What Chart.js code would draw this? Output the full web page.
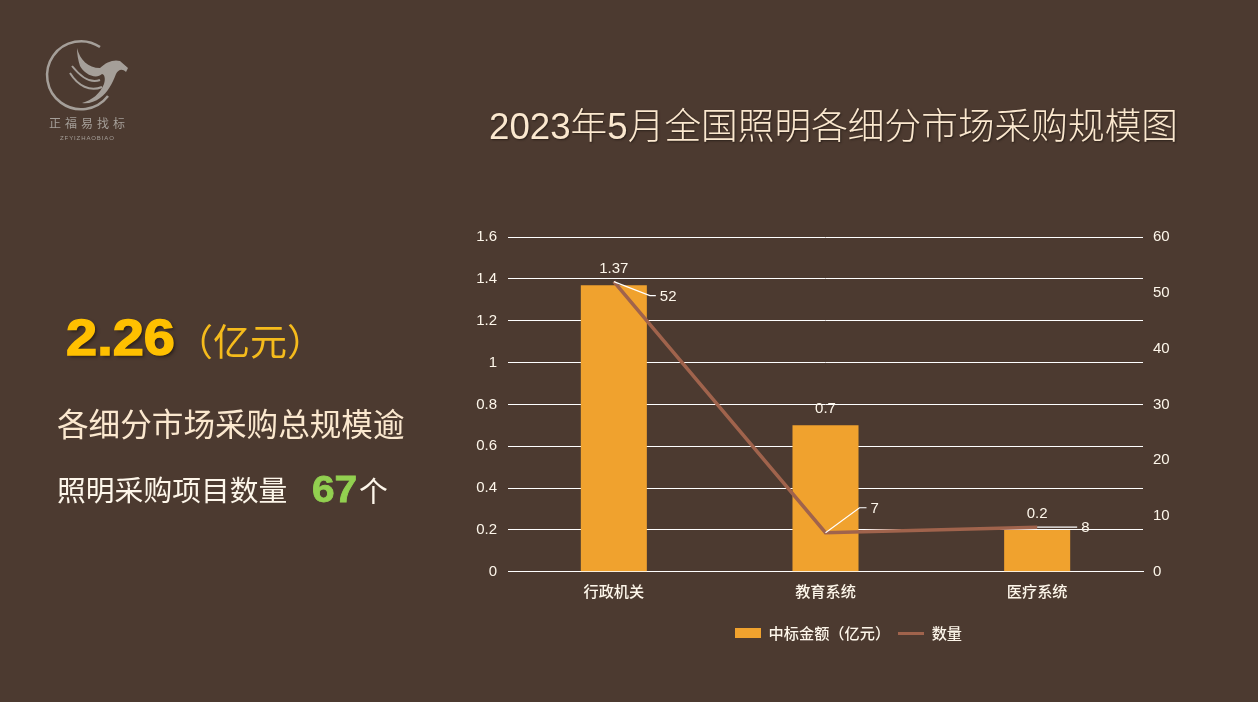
<!DOCTYPE html>
<html>
<head>
<meta charset="utf-8">
<script src="https://cdn.jsdelivr.net/npm/chart.js@4"></script>
<style>
html, body { margin: 0; padding: 0; background: #4c3a30; }
#page { position: relative; width: 1258px; height: 702px; overflow: hidden; font-family: "Liberation Sans", "Noto Sans CJK SC", sans-serif; }
#comboChart { position: absolute; left: 0; top: 0; }
.txt { position: absolute; white-space: nowrap; line-height: 1; }
#title { left: 489px; top: 109px; font-size: 36.7px; color: #fbe8cf; text-shadow: 1px 1px 2px #2b201a; font-weight: 300; }
#total { left: 66px; top: 313px; font-size: 50px; font-weight: bold; color: #ffc000; -webkit-text-stroke: 1.4px #ffc000; text-shadow: 2px 2px 3px #2b201a; transform: scaleX(1.12); transform-origin: left; }
#unit { left: 176px; top: 325px; font-size: 37px; color: #f5bb1c; font-weight: 400; }
#line1 { left: 57px; top: 410px; font-size: 31.6px; color: #fbe8cf; }
#line2 { left: 57px; top: 477px; font-size: 28.8px; color: #fdf6ea; }
#count { left: 312px; top: 472px; font-size: 36px; font-weight: bold; color: #92d050; -webkit-text-stroke: 0.8px #92d050; transform: scaleX(1.13); transform-origin: left; }
#countUnit { left: 359px; top: 478px; font-size: 28.8px; color: #fdf6ea; }
#logoCn { left: 49px; top: 118px; font-size: 12px; letter-spacing: 4px; color: #a59f99; }
#logoEn { left: 60px; top: 135px; font-size: 6px; letter-spacing: 0.9px; color: #a59f99; }
#logo { position: absolute; left: 40px; top: 36px; }
</style>
</head>
<body>
<div id="page">
  <canvas id="comboChart" width="1258" height="702"></canvas>
  <svg id="logo" width="96" height="80" viewBox="40 36 96 80">
    <path d="M100 47 A34 34 0 1 0 108 96" fill="none" stroke="#a59f99" stroke-width="2.5"/>
    <path d="M77 48 C80 60 88 68 100 68 C106 62 114 59 120 61 L128 68 L126 72 C122 68 118 70 116 74 C112 84 108 92 100 98 C95 102 88 104 82 103 C92 100 100 94 104 84 C106 78 104 74 102 74 C96 80 84 74 80 66 C78 60 77 54 77 48 Z" fill="#a59f99"/>
    <path d="M72 66 C80 76 90 84 100 80" fill="none" stroke="#a59f99" stroke-width="2"/>
    <path d="M70 73 C78 86 90 92 102 87" fill="none" stroke="#a59f99" stroke-width="2"/>
  </svg>
  <div class="txt" id="logoCn">正福易找标</div>
  <div class="txt" id="logoEn">ZFYIZHAOBIAO</div>
  <div class="txt" id="title">2023年5月全国照明各细分市场采购规模图</div>
  <div class="txt" id="total">2.26</div>
  <div class="txt" id="unit">（亿元）</div>
  <div class="txt" id="line1">各细分市场采购总规模逾</div>
  <div class="txt" id="line2">照明采购项目数量</div>
  <div class="txt" id="count">67</div>
  <div class="txt" id="countUnit">个</div>
</div>
<script>
const categories = ['行政机关', '教育系统', '医疗系统'];
const amounts = [1.37, 0.7, 0.2];
const counts = [52, 7, 8];
const leftTicks = ['0', '0.2', '0.4', '0.6', '0.8', '1', '1.2', '1.4', '1.6'];
const rightTicks = ['0', '10', '20', '30', '40', '50', '60'];

const textColor = '#fdf6ea';
const numFont = '15px "Liberation Sans", "Noto Sans CJK SC", sans-serif';
const cjkFont = { family: '"Noto Sans CJK SC", sans-serif', size: 15.2, weight: '500' };

function swatch(w, h, color) {
    const c = document.createElement('canvas');
    c.width = w;
    c.height = h;
    const g = c.getContext('2d');
    g.fillStyle = color;
    g.fillRect(0, 0, w, h);
    return c;
}

// value labels plus the leader lines for the line series
const dataLabels = {
    id: 'dataLabels',
    afterLayout(chart) {
        chart.legend.left += 23;
        chart.legend.right += 23;
    },
    afterDatasetsDraw(chart) {
        const ctx = chart.ctx;
        const bars = chart.getDatasetMeta(0).data;
        const pts = chart.getDatasetMeta(1).data;
        ctx.save();
        ctx.font = numFont;
        ctx.fillStyle = textColor;
        ctx.textBaseline = 'middle';
        ctx.textAlign = 'center';
        amounts.forEach((v, i) => {
            ctx.fillText(String(v), bars[i].x, bars[i].y - 16);
        });
        const leaders = [[36, 14, 42, 14], [34, -25, 41, -25], [40, 0, 40, 0]];
        ctx.strokeStyle = '#ffffff';
        ctx.lineWidth = 1.2;
        ctx.textAlign = 'left';
        counts.forEach((v, i) => {
            const p = pts[i];
            const l = leaders[i];
            ctx.beginPath();
            ctx.moveTo(p.x, p.y);
            ctx.lineTo(p.x + l[0], p.y + l[1]);
            ctx.lineTo(p.x + l[2], p.y + l[3]);
            ctx.stroke();
            ctx.fillText(String(v), p.x + l[2] + 4, p.y + l[3] + 1);
        });
        ctx.restore();
    }
};

new Chart(document.getElementById('comboChart'), {
    data: {
        labels: categories,
        datasets: [{
            type: 'bar',
            label: '中标金额（亿元）',
            data: amounts,
            yAxisID: 'y',
            backgroundColor: '#f0a22e',
            categoryPercentage: 1,
            barPercentage: 0.312,
            order: 2
        }, {
            type: 'line',
            label: '数量',
            data: counts,
            yAxisID: 'y1',
            borderColor: '#a0634c',
            backgroundColor: '#a0634c',
            borderWidth: 3.5,
            pointRadius: 0,
            tension: 0,
            order: 1
        }]
    },
    options: {
        responsive: false,
        animation: false,
        layout: { padding: { left: 468, right: 75, top: 237, bottom: 51 } },
        plugins: {
            tooltip: { enabled: false },
            legend: {
                position: 'bottom',
                labels: {
                    color: textColor,
                    font: cjkFont,
                    usePointStyle: true,
                    pointStyleWidth: 26,
                    padding: 8,
                    generateLabels(chart) {
                        const items = Chart.defaults.plugins.legend.labels.generateLabels(chart);
                        items.sort((a, b) => a.datasetIndex - b.datasetIndex);
                        items[0].pointStyle = swatch(26, 10, '#f0a22e');
                        items[1].pointStyle = swatch(26, 3, '#a0634c');
                        return items;
                    }
                }
            }
        },
        scales: {
            x: {
                afterFit(s) { s.height = 46; },
                grid: { display: false },
                border: { color: '#ffffff', width: 1 },
                ticks: { color: textColor, font: cjkFont, padding: 2 }
            },
            y: {
                position: 'left',
                min: 0,
                max: 1.6,
                afterFit(s) { s.width = 40; },
                grid: { color: '#ffffff', lineWidth: 1, drawTicks: false },
                border: { display: false },
                ticks: {
                    stepSize: 0.2,
                    color: textColor,
                    font: { family: '"Liberation Sans", sans-serif', size: 15 },
                    padding: 11,
                    callback: (v, i) => leftTicks[i]
                }
            },
            y1: {
                position: 'right',
                min: 0,
                max: 60,
                afterFit(s) { s.width = 40; },
                grid: { display: false },
                border: { display: false },
                ticks: {
                    stepSize: 10,
                    color: textColor,
                    font: { family: '"Liberation Sans", sans-serif', size: 15 },
                    padding: 2,
                    callback: (v, i) => rightTicks[i]
                }
            }
        }
    },
    plugins: [dataLabels]
});
</script>
</body>
</html>
